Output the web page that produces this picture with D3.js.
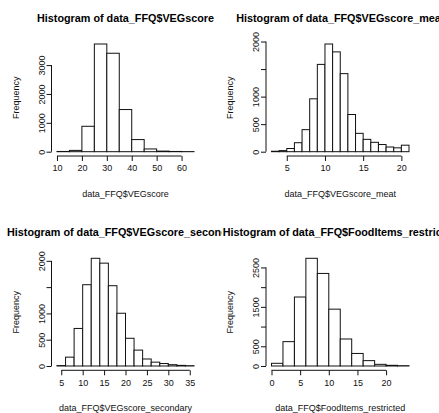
<!DOCTYPE html>
<html>
<head>
<meta charset="utf-8">
<script src="https://cdn.jsdelivr.net/npm/d3@7/dist/d3.min.js"></script>
<style>
    body { margin: 0; background: #fff; }
    svg { display: block; font-family: "Liberation Sans", Arial, sans-serif; }
</style>
</head>
<body>
<div id="chart"></div>
<script>
// --- data (bin edges + counts) ---
const vegBreaks = [10, 15, 20, 25, 30, 35, 40, 45, 50, 55, 60, 65];
const vegCounts = [8, 45, 880, 3730, 3410, 1460, 420, 95, 20, 8, 3];
const vegXTicks = [10, 20, 30, 40, 50, 60];
const vegYTicks = [0, 1000, 2000, 3000];
const vegYLabels = [0, 1000, 2000, 3000];

const meatBreaks = [3, 4, 5, 6, 7, 8, 9, 10, 11, 12, 13, 14, 15, 16, 17, 18, 19, 20, 21];
const meatCounts = [8, 20, 58, 163, 400, 960, 1585, 1955, 1812, 1417, 675, 333, 224, 170, 130, 85, 70, 118];
const meatXTicks = [5, 10, 15, 20];
const meatYTicks = [0, 500, 1000, 1500, 2000];
const meatYLabels = [0, 500, 1000, 2000];

const secBreaks = [4, 6, 8, 10, 12, 14, 16, 18, 20, 22, 24, 26, 28, 30, 32, 34, 36];
const secCounts = [8, 168, 714, 1546, 2048, 1956, 1527, 1003, 527, 302, 133, 73, 47, 25, 12, 6];
const secXTicks = [5, 10, 15, 20, 25, 30, 35];
const secYTicks = [0, 500, 1000, 1500, 2000];
const secYLabels = [0, 500, 1000, 2000];

const foodBreaks = [0, 2, 4, 6, 8, 10, 12, 14, 16, 18, 20, 22, 24];
const foodCounts = [68, 618, 1750, 2732, 2348, 1442, 685, 318, 136, 42, 17, 8];
const foodXTicks = [0, 5, 10, 15, 20];
const foodYTicks = [0, 500, 1000, 1500, 2000, 2500];
const foodYLabels = [0, 500, 1500, 2500];

const titles = ["Histogram of data_FFQ$VEGscore", "Histogram of data_FFQ$VEGscore_meat",
    "Histogram of data_FFQ$VEGscore_secondary", "Histogram of data_FFQ$FoodItems_restricted"];
const xLabels = ["data_FFQ$VEGscore", "data_FFQ$VEGscore_meat",
    "data_FFQ$VEGscore_secondary", "data_FFQ$FoodItems_restricted"];

class HistVis {
    constructor(_svg, _opts) {
        this.svg = _svg;
        this.opts = _opts;
        this.initVis();
    }

    initVis() {
        let vis = this;
        let o = vis.opts;

        // figure region (used for clipping the long titles like R does)
        vis.clipId = "clip" + o.id;
        vis.svg.append("clipPath").attr("id", vis.clipId)
            .append("rect")
            .attr("x", o.figX).attr("y", o.figY)
            .attr("width", o.figW).attr("height", o.figH);

        vis.g = vis.svg.append("g").attr("clip-path", "url(#" + vis.clipId + ")");

        // R style 4% expansion of the axis ranges
        let b0 = o.breaks[0], b1 = o.breaks[o.breaks.length - 1];
        let pad = (b1 - b0) * 0.04;
        vis.x = d3.scaleLinear()
            .domain([b0 - pad, b1 + pad])
            .range([o.left, o.right]);

        let ymax = d3.max(o.counts);
        vis.y = d3.scaleLinear()
            .domain([-ymax * 0.04, ymax * 1.04])
            .range([o.bottom, o.top]);

        vis.updateVis();
    }

    updateVis() {
        let vis = this;
        let o = vis.opts;

        // bars
        vis.g.selectAll("rect.bar")
            .data(o.counts)
            .enter().append("rect")
            .attr("class", "bar")
            .attr("x", (d, i) => vis.x(o.breaks[i]))
            .attr("width", (d, i) => vis.x(o.breaks[i + 1]) - vis.x(o.breaks[i]))
            .attr("y", d => vis.y(d))
            .attr("height", d => vis.y(0) - vis.y(d))
            .style("fill", "#fff")
            .style("stroke", "#111")
            .style("stroke-width", 1);

        // x axis, line runs only from first to last tick
        let xAxis = vis.g.append("g")
            .attr("transform", "translate(0," + o.bottom + ")")
            .call(d3.axisBottom(vis.x).tickValues(o.xticks).tickSize(5).tickSizeOuter(0).tickPadding(4));
        xAxis.select(".domain")
            .attr("d", "M" + vis.x(o.xticks[0]) + ",0H" + vis.x(o.xticks[o.xticks.length - 1]));

        // y axis with rotated labels
        let yAxis = vis.g.append("g")
            .attr("transform", "translate(" + o.left + ",0)")
            .call(d3.axisLeft(vis.y).tickValues(o.yticks).tickSize(5).tickSizeOuter(0)
                .tickFormat(d => o.ylabels.includes(d) ? d : ""));
        yAxis.select(".domain")
            .attr("d", "M0," + vis.y(o.yticks[0]) + "V" + vis.y(o.yticks[o.yticks.length - 1]));
        yAxis.selectAll(".tick text")
            .attr("x", 0).attr("y", -7).attr("dy", 0)
            .attr("transform", "rotate(-90)")
            .style("text-anchor", "middle");

        [xAxis, yAxis].forEach(function(a) {
            a.selectAll("path, line").style("stroke", "#111");
            a.selectAll("text").style("font-size", "9px").style("fill", "#111")
                .style("font-family", "'Liberation Sans', Arial, sans-serif");
        });

        let cx = (o.left + o.right) / 2;

        // title
        vis.g.append("text")
            .attr("x", cx).attr("y", o.top - 18)
            .attr("text-anchor", "middle")
            .style("font-size", "10.8px").style("font-weight", "bold")
            .text(o.title);

        // axis titles
        vis.g.append("text")
            .attr("x", cx).attr("y", o.bottom + 41)
            .attr("text-anchor", "middle")
            .style("font-size", "9px").style("fill", "#111")
            .text(o.xlab);

        vis.g.append("text")
            .attr("transform", "translate(" + (o.left - 33) + "," + ((o.top + o.bottom) / 2) + ") rotate(-90)")
            .attr("text-anchor", "middle")
            .style("font-size", "9px").style("fill", "#111")
            .text("Frequency");
    }
}

let svg = d3.select("#chart").append("svg")
    .attr("width", 439)
    .attr("height", 413);

// plot regions of the 2x2 layout
const colLeft = [51.5, 266];
const colRight = [199.5, 414.5];
const rowTop = [39.7, 254];
const rowBottom = [156, 370.3];
const figX = [0, 222];
const figW = [222, 217];

const allBreaks = [vegBreaks, meatBreaks, secBreaks, foodBreaks];
const allCounts = [vegCounts, meatCounts, secCounts, foodCounts];
const allXTicks = [vegXTicks, meatXTicks, secXTicks, foodXTicks];
const allYTicks = [vegYTicks, meatYTicks, secYTicks, foodYTicks];
const allYLabels = [vegYLabels, meatYLabels, secYLabels, foodYLabels];

for (let i = 0; i < 4; i++) {
    let c = i % 2, r = Math.floor(i / 2);
    new HistVis(svg, {
        id: i,
        breaks: allBreaks[i], counts: allCounts[i],
        xticks: allXTicks[i], yticks: allYTicks[i], ylabels: allYLabels[i],
        title: titles[i], xlab: xLabels[i],
        left: colLeft[c], right: colRight[c], top: rowTop[r], bottom: rowBottom[r],
        figX: figX[c], figW: figW[c], figY: r * 206, figH: r === 0 ? 206 : 207
    });
}
</script>
</body>
</html>
